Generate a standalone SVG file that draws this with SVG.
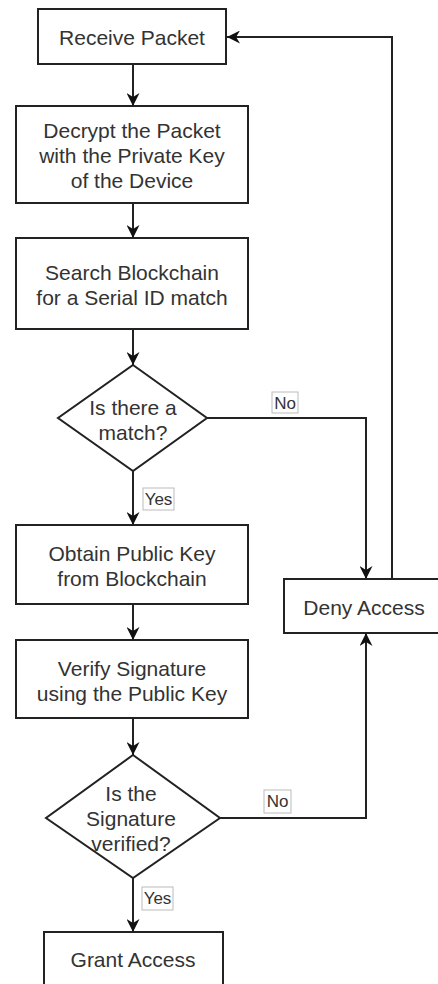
<svg xmlns="http://www.w3.org/2000/svg" width="438" height="984" viewBox="0 0 438 984">
<defs>
<style>
.box{fill:#fff;stroke:#222;stroke-width:2}
.t{font-family:"Liberation Sans",Arial,sans-serif;font-size:21px;fill:#333;text-anchor:middle}
.c{fill:none;stroke:#222;stroke-width:2}
.lb{fill:#fff;stroke:#bbb;stroke-width:1}
.lt{font-family:"Liberation Sans",Arial,sans-serif;font-size:17px;fill:#333;text-anchor:middle}
</style>
<marker id="ah" viewBox="0 0 10 10" markerWidth="13" markerHeight="13" refX="10" refY="5" orient="auto" markerUnits="userSpaceOnUse">
<path d="M0,0 L10,5 L0,10 L3,5 z" fill="#111"/>
</marker>
</defs>
<rect width="438" height="984" fill="#fff"/>
<g id="connectors">
<path class="c" d="M133,64 V106" marker-end="url(#ah)"/>
<path class="c" d="M133,203 V238" marker-end="url(#ah)"/>
<path class="c" d="M133,329 V365" marker-end="url(#ah)"/>
<path class="c" d="M133,471 V525" marker-end="url(#ah)"/>
<path class="c" d="M207,418 H366 V579" marker-end="url(#ah)"/>
<path class="c" d="M133,604 V640" marker-end="url(#ah)"/>
<path class="c" d="M133,718 V755" marker-end="url(#ah)"/>
<path class="c" d="M220,818 H366 V633" marker-end="url(#ah)"/>
<path class="c" d="M133,878 V932" marker-end="url(#ah)"/>
<path class="c" d="M392,579 V37 H227" marker-end="url(#ah)"/>
<g id="label-no-1"><rect class="lb" x="272" y="392" width="26" height="21"/><text class="lt" x="285" y="409">No</text></g>
<g id="label-yes-1"><rect class="lb" x="143" y="488" width="31" height="22"/><text class="lt" x="158.5" y="505">Yes</text></g>
<g id="label-no-2"><rect class="lb" x="264" y="790" width="27" height="23"/><text class="lt" x="277.5" y="807">No</text></g>
<g id="label-yes-2"><rect class="lb" x="142" y="887" width="31" height="23"/><text class="lt" x="157.5" y="904">Yes</text></g>
</g>
<g id="receive"><rect class="box" x="38" y="9" width="188" height="55"/><text class="t" x="132" y="45">Receive Packet</text></g>
<g id="decrypt"><rect class="box" x="16" y="106" width="232" height="97"/><text class="t" x="132" y="138">Decrypt the Packet</text><text class="t" x="132" y="163">with the Private Key</text><text class="t" x="132" y="188">of the Device</text></g>
<g id="search"><rect class="box" x="16" y="238" width="232" height="91"/><text class="t" x="132" y="280">Search Blockchain</text><text class="t" x="132" y="305">for a Serial ID match</text></g>
<g id="match"><polygon class="box" points="133,365 207,418 133,471 58,418"/><text class="t" x="133" y="415">Is there a</text><text class="t" x="133" y="440">match?</text></g>
<g id="obtain"><rect class="box" x="16" y="525" width="232" height="79"/><text class="t" x="132" y="561">Obtain Public Key</text><text class="t" x="132" y="586">from Blockchain</text></g>
<g id="verify"><rect class="box" x="16" y="640" width="232" height="78"/><text class="t" x="132" y="676">Verify Signature</text><text class="t" x="132" y="701">using the Public Key</text></g>
<g id="verified"><polygon class="box" points="133,755 220,818 133,878 46,818"/><text class="t" x="131" y="801">Is the</text><text class="t" x="131" y="826">Signature</text><text class="t" x="131" y="851">verified?</text></g>
<g id="deny"><rect class="box" x="284" y="579" width="160" height="54"/><text class="t" x="364" y="615">Deny Access</text></g>
<g id="grant"><rect class="box" x="44" y="932" width="179" height="60"/><text class="t" x="133" y="967">Grant Access</text></g>
</svg>
